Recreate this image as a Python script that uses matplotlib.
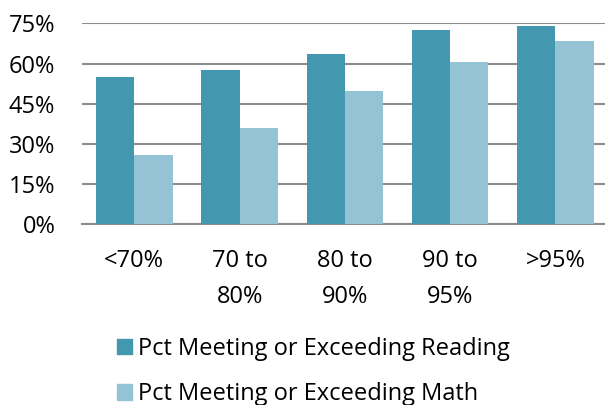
import matplotlib
matplotlib.use("Agg")
from matplotlib import pyplot as plt
from matplotlib.patches import Patch
import numpy as np

# chart data
categories = ["<70%", "70 to\n80%", "80 to\n90%", "90 to\n95%", ">95%"]
reading = [55.0, 57.5, 63.5, 72.5, 74.0]
math_pct = [25.7, 36.0, 49.7, 60.5, 68.4]
series_names = ["Pct Meeting or Exceeding Reading", "Pct Meeting or Exceeding Math"]
y_ticks = [0, 15, 30, 45, 60, 75]

READING_COLOR = "#4398b0"
MATH_COLOR = "#94c3d5"
GRID_COLOR = "#8c8c8c"
FS = 17

plt.rcParams["font.family"] = ["Open Sans", "DejaVu Sans"]

fig = plt.figure(figsize=(6.05, 4.05), dpi=100)
ax = fig.add_axes([0.135, 0.448, 0.870, 0.494])

x = np.arange(len(categories))
bar_w = 0.364
ax.bar(x - bar_w / 2, reading, width=bar_w, color=READING_COLOR, zorder=3)
ax.bar(x + bar_w / 2, math_pct, width=bar_w, color=MATH_COLOR, zorder=3)

ax.set_xlim(-0.5, len(categories) - 0.5)
ax.set_ylim(0, 75)
ax.set_yticks(y_ticks)
ax.set_yticklabels([f"{t}%" for t in y_ticks], fontsize=FS)
ax.set_xticks(x)
ax.set_xticklabels(categories, fontsize=FS, linespacing=1.7, va="top")

ax.grid(axis="y", color=GRID_COLOR, linewidth=1.5, zorder=0)
for side in ["top", "right", "left"]:
    ax.spines[side].set_visible(False)
ax.spines["bottom"].set_color(GRID_COLOR)
ax.spines["bottom"].set_linewidth(1.5)
ax.tick_params(axis="y", length=0, pad=19)
ax.tick_params(axis="x", length=0, pad=18)

handles = [Patch(color=READING_COLOR), Patch(color=MATH_COLOR)]
fig.legend(
    handles,
    series_names,
    loc="upper left",
    bbox_to_anchor=(0.193, 0.168),
    frameon=False,
    fontsize=FS,
    handlelength=0.64,
    handleheight=0.64,
    handletextpad=0.25,
    labelspacing=0.9,
    borderaxespad=0,
    borderpad=0,
)

fig.savefig("out.png", dpi=100)
